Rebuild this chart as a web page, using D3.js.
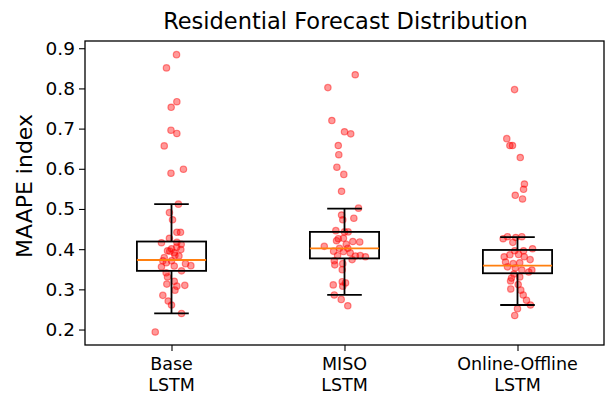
<!DOCTYPE html>
<html>
<head>
  <script src="https://d3js.org/d3.v7.min.js"></script>
  <style>
    body { margin: 0; background: #fff; }
    text { font-family: "DejaVu Sans", sans-serif; fill: #000; }
  </style>
</head>
<body>
<div id="chart"></div>
<script>
// categories (two lines each)
const categories = [["Base", "LSTM"], ["MISO", "LSTM"], ["Online-Offline", "LSTM"]];
const yTicks = [0.2, 0.3, 0.4, 0.5, 0.6, 0.7, 0.8, 0.9];

// box stats: [lower whisker, q1, median, q3, upper whisker]
const baseBox   = [0.240, 0.346, 0.373, 0.419, 0.512];
const misoBox   = [0.286, 0.377, 0.402, 0.443, 0.501];
const onlineBox = [0.261, 0.340, 0.359, 0.398, 0.430];

// scatter values and their horizontal jitter (category units)
const baseVals = [0.884, 0.851, 0.767, 0.753, 0.696, 0.688, 0.657, 0.599, 0.589, 0.512,
  0.491, 0.473, 0.442, 0.442, 0.427, 0.416, 0.417, 0.412, 0.401, 0.399,
  0.396, 0.391, 0.383, 0.379, 0.371, 0.371, 0.364, 0.359, 0.356, 0.358,
  0.346, 0.341, 0.331, 0.320, 0.313, 0.310, 0.308, 0.298, 0.285, 0.271,
  0.261, 0.240, 0.194, 0.395, 0.385, 0.366, 0.405];
const baseJit = [0.029, -0.029, 0.031, -0.002, -0.003, 0.031, -0.042, 0.069, -0.003, 0.040,
  -0.012, 0.006, 0.031, 0.052, -0.012, -0.058, 0.031, 0.056, 0.000, 0.054,
  -0.023, 0.016, 0.043, -0.042, -0.050, 0.000, 0.081, 0.112, -0.058, 0.016,
  0.058, -0.031, -0.023, 0.016, -0.027, 0.077, 0.031, 0.020, -0.050, -0.019,
  0.000, 0.058, -0.094, -0.010, 0.020, -0.030, 0.030];

const misoVals = [0.834, 0.802, 0.720, 0.692, 0.687, 0.658, 0.635, 0.604, 0.586, 0.544,
  0.502, 0.485, 0.473, 0.477, 0.446, 0.443, 0.443, 0.426, 0.427, 0.421,
  0.419, 0.418, 0.412, 0.407, 0.402, 0.402, 0.395, 0.394, 0.391, 0.384,
  0.383, 0.384, 0.381, 0.374, 0.371, 0.364, 0.361, 0.349, 0.319, 0.316,
  0.311, 0.308, 0.286, 0.275, 0.259];
const misoJit = [0.062, -0.096, -0.073, 0.000, 0.036, -0.036, -0.033, -0.044, -0.004, -0.017,
  0.081, -0.017, -0.010, 0.054, -0.050, 0.000, 0.021, -0.036, -0.006, -0.046,
  0.048, 0.088, 0.010, -0.117, -0.029, 0.019, -0.063, -0.006, 0.033, -0.040,
  0.063, 0.091, 0.121, 0.044, -0.059, -0.010, -0.056, -0.013, -0.013, 0.006,
  -0.065, -0.010, -0.059, -0.019, 0.019];

const onlineVals = [0.797, 0.675, 0.658, 0.658, 0.628, 0.562, 0.549, 0.534, 0.525, 0.426,
  0.431, 0.429, 0.431, 0.417, 0.401, 0.396, 0.396, 0.386, 0.387, 0.381,
  0.381, 0.374, 0.368, 0.364, 0.366, 0.356, 0.353, 0.348, 0.348, 0.343,
  0.338, 0.331, 0.328, 0.321, 0.312, 0.301, 0.298, 0.286, 0.273, 0.261,
  0.252, 0.235];
const onlineJit = [-0.017, -0.062, -0.044, -0.029, 0.016, 0.040, 0.035, -0.013, 0.029, -0.083,
  -0.058, -0.010, 0.025, -0.027, 0.087, -0.016, 0.035, -0.044, 0.006, 0.039,
  -0.077, 0.073, -0.069, -0.025, 0.013, -0.058, -0.013, 0.025, 0.083, 0.065,
  -0.021, 0.013, -0.035, -0.040, 0.004, -0.039, 0.019, 0.033, 0.052, 0.075,
  0.000, -0.016];

const boxes = [baseBox, misoBox, onlineBox];
const values = [baseVals, misoVals, onlineVals];
const jitters = [baseJit, misoJit, onlineJit];

const width = 606, height = 395;
const margins = { top: 41, right: 2, bottom: 50, left: 85 };
const chartWidth = width - margins.left - margins.right;
const chartHeight = height - margins.top - margins.bottom;

const svg = d3.select("#chart").append("svg")
  .attr("width", width)
  .attr("height", height);

const chartArea = svg.append("g")
  .attr("transform", `translate(${margins.left},${margins.top})`);

const xScale = d3.scaleLinear().domain([0.5, 3.5]).range([0, chartWidth]);
const yScale = d3.scaleLinear().domain([0.1615, 0.918]).range([chartHeight, 0]);

// scatter points
values.forEach((vals, i) => {
  vals.forEach((v, j) => {
    chartArea.append("circle")
      .attr("cx", xScale(i + 1 + jitters[i][j]))
      .attr("cy", yScale(v))
      .attr("r", 3.2)
      .attr("fill", "red")
      .attr("fill-opacity", 0.4)
      .attr("stroke", "red")
      .attr("stroke-opacity", 0.45)
      .attr("stroke-width", 1.2);
  });
});

// boxes
const boxW = 0.4, capW = 0.2;
boxes.forEach((b, i) => {
  const c = i + 1;
  const g = chartArea.append("g").attr("stroke", "#000").attr("stroke-width", 1.8).attr("fill", "none");
  // whiskers
  g.append("line").attr("x1", xScale(c)).attr("x2", xScale(c)).attr("y1", yScale(b[0])).attr("y2", yScale(b[1]));
  g.append("line").attr("x1", xScale(c)).attr("x2", xScale(c)).attr("y1", yScale(b[3])).attr("y2", yScale(b[4]));
  g.append("line").attr("x1", xScale(c - capW / 2)).attr("x2", xScale(c + capW / 2)).attr("y1", yScale(b[0])).attr("y2", yScale(b[0]));
  g.append("line").attr("x1", xScale(c - capW / 2)).attr("x2", xScale(c + capW / 2)).attr("y1", yScale(b[4])).attr("y2", yScale(b[4]));
  g.append("rect")
    .attr("x", xScale(c - boxW / 2))
    .attr("y", yScale(b[3]))
    .attr("width", xScale(c + boxW / 2) - xScale(c - boxW / 2))
    .attr("height", yScale(b[1]) - yScale(b[3]));
  chartArea.append("line")
    .attr("x1", xScale(c - boxW / 2)).attr("x2", xScale(c + boxW / 2))
    .attr("y1", yScale(b[2])).attr("y2", yScale(b[2]))
    .attr("stroke", "#ff7f0e").attr("stroke-width", 1.8);
});

// axes
const yAxis = d3.axisLeft(yScale).tickValues(yTicks).tickFormat(d3.format(".1f")).tickSize(6).tickPadding(4);
const yAxisGroup = chartArea.append("g").call(yAxis);
yAxisGroup.selectAll("text").style("font-size", "18.5px");

const xAxis = d3.axisBottom(xScale).tickValues([1, 2, 3]).tickFormat("").tickSize(6);
const xAxisGroup = chartArea.append("g").attr("transform", `translate(0,${chartHeight})`).call(xAxis);
xAxisGroup.selectAll(".domain").remove();
yAxisGroup.selectAll(".domain").remove();
chartArea.selectAll(".tick line").attr("stroke", "#000").attr("stroke-width", 1.1);

// two-line category labels, one text element per line
categories.forEach((lines, i) => {
  lines.forEach((s, k) => {
    chartArea.append("text")
      .attr("x", xScale(i + 1))
      .attr("y", chartHeight + 25 + k * 20.8)
      .attr("text-anchor", "middle")
      .style("font-size", "17.5px")
      .text(s);
  });
});

// frame
chartArea.append("rect")
  .attr("width", chartWidth).attr("height", chartHeight)
  .attr("fill", "none").attr("stroke", "#000").attr("stroke-width", 1.3);

// title and y label
svg.append("text")
  .attr("x", margins.left + chartWidth / 2 + 1)
  .attr("y", 29)
  .attr("text-anchor", "middle")
  .style("font-size", "22.5px")
  .text("Residential Forecast Distribution");

svg.append("text")
  .attr("transform", `translate(32,${(115 + 257) / 2}) rotate(-90)`)
  .attr("text-anchor", "middle")
  .style("font-size", "22px")
  .text("MAAPE index");
</script>
</body>
</html>
